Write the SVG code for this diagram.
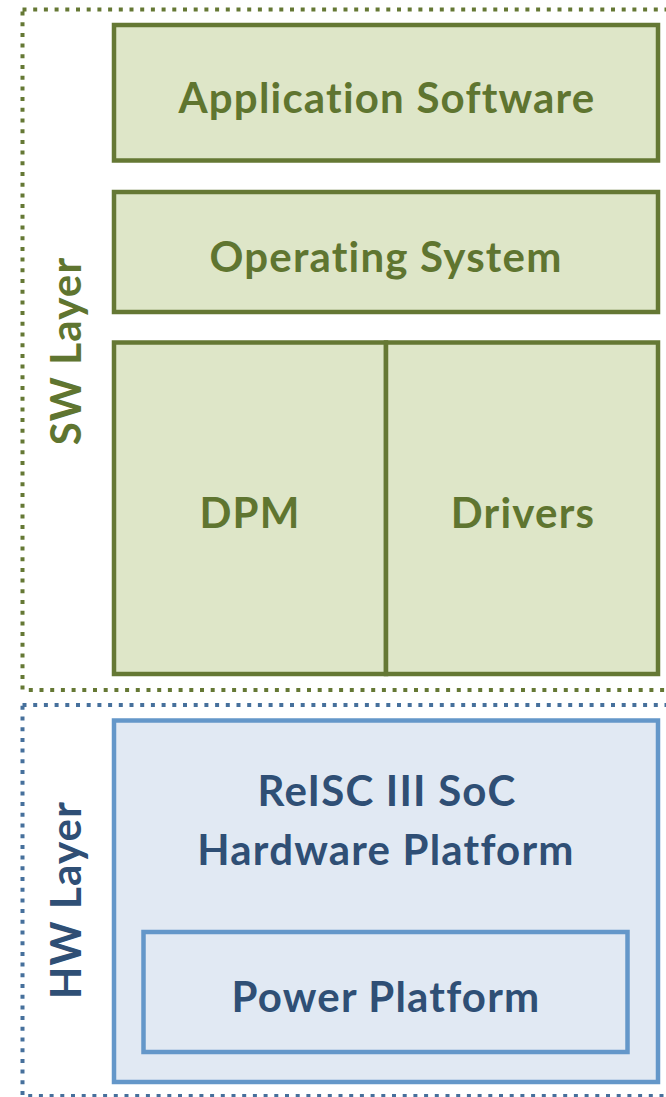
<svg xmlns="http://www.w3.org/2000/svg" width="666" height="1097" viewBox="0 0 666 1097">
<style>
.g{fill:#dee6c8;stroke:#657834;stroke-width:4.5}
.b{fill:#e1e9f3;stroke:#6497c9;stroke-width:4.5}
.tg{font-family:Lato,"Open Sans",sans-serif;font-weight:bold;font-size:42px;letter-spacing:1.2px;fill:#5f7530;text-anchor:middle}
.tb{font-family:Lato,"Open Sans",sans-serif;font-weight:bold;font-size:42px;letter-spacing:1.2px;fill:#2f4f75;text-anchor:middle}
</style>
<g id="sw-layer">
<rect x="22.5" y="9.5" width="660" height="680.5" fill="none" stroke="#657834" stroke-width="4" stroke-dasharray="4 6.7"/>
<text class="tg" transform="translate(81,351) rotate(-90)">SW Layer</text>
</g>
<g id="hw-layer">
<rect x="22.5" y="705" width="660" height="391" fill="none" stroke="#46709c" stroke-width="4" stroke-dasharray="4 6.7"/>
<text class="tb" transform="translate(81,900) rotate(-90)">HW Layer</text>
</g>
<g id="app">
<rect class="g" x="114" y="25" width="544" height="135.5"/>
<text class="tg" x="387" y="113">Application Software</text>
</g>
<g id="os">
<rect class="g" x="114" y="192" width="544" height="120"/>
<text class="tg" x="386" y="272">Operating System</text>
</g>
<g id="dpm">
<rect class="g" x="114" y="342.5" width="272" height="331.5"/>
<text class="tg" x="250" y="528">DPM</text>
</g>
<g id="drivers">
<rect class="g" x="386" y="342.5" width="272" height="331.5"/>
<text class="tg" x="523" y="528">Drivers</text>
</g>
<g id="hw">
<rect class="b" x="114" y="720.5" width="544" height="361.5"/>
<text class="tb" x="387" y="806">ReISC III SoC</text>
<text class="tb" x="386" y="865">Hardware Platform</text>
</g>
<g id="power">
<rect class="b" x="143.5" y="932" width="484" height="120"/>
<text class="tb" x="386" y="1012">Power Platform</text>
</g>
<g id="connectors"></g>
</svg>
